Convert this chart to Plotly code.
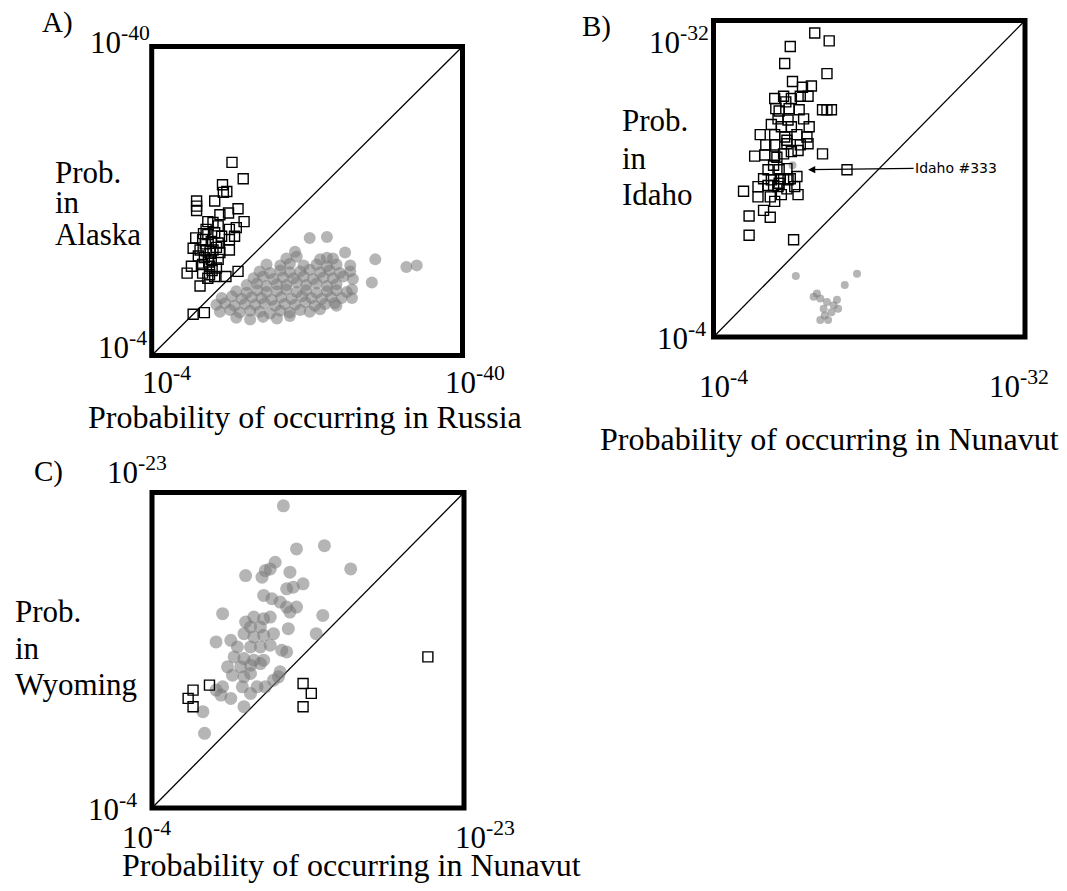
import plotly.graph_objects as go

W, H = 1067, 891

# ---------------- DATA (values given as -log10(probability)) ----------------
a_range = [4, 40]      # 10^-4 .. 10^-40
b_range = [4, 32]
c_range = [4, 23]

# Panel A: Alaska (y) vs Russia (x)
a_sq_x = [13.3, 14.6, 12.2, 12.7, 9.2, 9.2, 9.2, 11.3, 12.3, 14.0, 12.9, 11.9, 14.7, 10.5, 11.1, 11.7,
          13.0, 13.8, 10.3, 10.5, 11.3, 12.1, 9.1, 9.9, 10.9, 11.7, 13.0, 13.6, 8.8, 9.6, 10.3, 11.1,
          11.9, 13.0, 9.4, 10.1, 10.9, 11.7, 9.9, 10.7, 11.5, 8.6, 8.1, 9.9, 10.7, 11.3, 12.6, 14.0,
          9.6, 10.5, 8.8, 10.1, 10.8, 10.2, 11.5, 10.6, 11.0, 10.0]
a_sq_y = [26.5, 24.6, 23.9, 23.1, 22.0, 21.4, 20.9, 22.0, 23.0, 21.1, 20.6, 20.4, 19.6, 19.6, 19.5, 19.1,
          18.7, 18.9, 18.7, 18.1, 18.3, 17.9, 17.7, 17.5, 17.3, 17.1, 17.5, 17.9, 16.5, 16.3, 16.2, 16.3,
          16.0, 16.3, 15.6, 15.4, 15.2, 15.2, 14.6, 14.4, 14.2, 14.4, 13.6, 13.6, 13.4, 13.2, 13.2, 13.8,
          12.1, 13.0, 8.8, 9.0, 15.9, 17.0, 16.6, 14.9, 13.9, 18.2]
a_ci_x = [13.8, 15.4, 16.9, 18.5, 20.0,
          11.9, 13.1, 14.2, 15.4, 16.5, 17.7, 18.9, 20.0, 21.2, 22.3, 23.5,
          11.5, 12.5, 13.6, 14.8, 16.0, 17.1, 18.3, 19.4, 20.6, 21.8, 22.9, 24.1, 25.2,
          12.1, 13.3, 14.4, 15.6, 16.7, 17.9, 19.0, 20.2, 21.4, 22.5, 23.7, 24.8, 26.0,
          13.8, 15.0, 16.2, 17.3, 18.5, 19.6, 20.8, 21.9, 23.1, 24.3, 25.4, 26.6,
          15.0, 16.2, 17.3, 18.5, 19.6, 20.8, 21.9, 23.1, 24.3, 25.4,
          15.8, 16.9, 18.1, 19.2, 20.4, 21.6, 22.7, 23.9, 25.0, 26.2, 27.3,
          16.5, 17.7, 18.9, 20.0, 21.2, 22.3, 23.5, 24.6, 25.8, 27.0,
          17.3, 18.9, 20.0, 21.6, 23.1, 24.3, 25.4, 27.0,
          19.6, 20.8, 23.5, 24.3, 25.0,
          20.6, 26.4,
          22.3, 24.3, 29.9, 33.5, 34.7, 29.5, 27.2, 27.2, 25.4]
a_ci_y = [8.4, 8.2, 8.5, 8.3, 8.6,
          9.1, 9.3, 9.0, 9.2, 9.1, 8.9, 9.2, 9.0, 9.3, 9.1, 9.4,
          9.9, 10.1, 9.8, 10.0, 9.9, 10.1, 9.8, 10.0, 9.9, 10.2, 9.8, 10.0, 10.1,
          10.7, 10.9, 10.6, 10.8, 10.7, 10.5, 10.8, 10.6, 10.9, 10.7, 10.6, 10.8, 10.7,
          11.5, 11.3, 11.6, 11.4, 11.5, 11.7, 11.4, 11.6, 11.3, 11.5, 11.6, 11.4,
          12.2, 12.4, 12.1, 12.3, 12.2, 12.5, 12.2, 12.4, 12.1, 12.3,
          13.0, 13.2, 12.9, 13.1, 13.0, 13.2, 12.9, 13.1, 13.0, 13.2, 12.9,
          13.8, 13.6, 13.9, 13.7, 13.8, 14.0, 13.7, 13.9, 13.6, 13.8,
          14.6, 14.5, 14.7, 14.5, 14.6, 14.4, 14.6, 14.5,
          15.3, 15.5, 15.2, 15.4, 15.3,
          16.1, 16.0,
          17.7, 17.8, 15.2, 14.3, 14.5, 12.5, 11.7, 10.7, 9.8]

# Panel B: Idaho (y) vs Nunavut (x)
b_sq_x = [13.1, 14.4, 10.9, 10.4, 14.2, 11.1, 12.0, 12.8, 9.5, 10.3, 11.0, 11.8, 12.5, 9.6, 10.8, 11.7,
          13.8, 14.2, 14.6, 9.8, 10.7, 12.1, 9.2, 10.1, 11.0, 12.6, 8.2, 9.5, 10.4, 11.5, 12.4, 8.7,
          9.5, 10.6, 11.8, 12.5, 13.8, 7.7, 8.6, 9.5, 10.3, 11.0, 11.6, 8.9, 9.9, 9.4, 10.6, 8.5,
          9.2, 10.0, 10.7, 11.5, 8.0, 8.9, 9.8, 10.6, 11.3, 6.7, 8.0, 9.1, 10.1, 11.6, 9.5, 8.5,
          9.1, 7.2, 7.2, 11.2, 9.7, 10.3, 10.9, 9.9, 9.4, 10.6, 9.9, 10.5]
b_sq_y = [30.9, 30.2, 29.7, 28.2, 27.3, 26.6, 26.1, 26.2, 25.1, 25.3, 25.1, 25.3, 25.3, 24.2, 24.2, 24.1,
          24.1, 24.1, 24.1, 23.3, 23.2, 23.3, 22.8, 22.6, 22.6, 22.6, 21.9, 21.9, 21.7, 21.9, 21.7, 21.0,
          21.0, 21.1, 21.0, 21.1, 20.2, 20.0, 20.1, 20.0, 20.2, 20.4, 20.5, 18.8, 18.8, 19.2, 18.9, 18.0,
          17.9, 18.0, 17.9, 18.2, 17.3, 17.4, 17.3, 17.1, 17.3, 16.9, 16.4, 16.4, 16.6, 16.6, 16.0, 15.2,
          14.6, 14.7, 13.0, 12.6, 19.9, 18.0, 18.0, 17.6, 17.4, 21.4, 24.0, 24.8]
b_ci_x = [11.4, 16.9, 15.8, 13.0, 13.6, 14.2, 14.8, 15.2, 14.6, 14.0, 13.6, 14.3, 13.3, 15.1, 13.9, 11.1]
b_ci_y = [9.4, 9.6, 8.6, 7.55, 7.4, 7.1, 6.8, 6.5, 6.2, 5.9, 5.5, 5.5, 7.85, 7.3, 6.5, 19.2]
idaho333 = [16.0, 18.8]
idaho333_label = "Idaho #333"

# Panel C: Wyoming (y) vs Nunavut (x)
c_sq_x = [6.5, 6.2, 6.5, 7.5, 13.2, 13.7, 13.2, 20.8]
c_sq_y = [11.1, 10.6, 10.1, 11.4, 11.5, 10.9, 10.1, 13.1]
c_ci_x = [12.0, 12.8, 14.5, 16.1, 9.7, 10.7, 11.5, 11.2, 10.9, 12.4, 12.6, 13.2, 12.2, 10.8, 11.3, 11.8,
          12.2, 12.8, 12.4, 14.4, 14.0, 8.3, 9.7, 10.2, 10.8, 11.2, 10.0, 10.6, 9.6, 10.2, 10.8, 11.4,
          12.3, 7.9, 8.8, 9.2, 10.0, 10.6, 11.2, 11.9, 12.2, 9.0, 9.6, 10.2, 10.8, 9.4, 10.0, 10.6,
          11.8, 8.9, 9.6, 10.0, 8.3, 9.5, 8.2, 8.8, 10.0, 10.9, 11.4, 7.1, 9.6, 7.2, 7.9, 8.6,
          10.4, 11.7]
c_ci_y = [22.2, 19.6, 19.8, 18.4, 18.0, 17.9, 18.8, 18.4, 18.3, 18.2, 17.3, 17.5, 17.2, 16.8, 16.6, 16.4,
          16.1, 16.1, 15.8, 15.6, 14.5, 15.7, 15.2, 15.5, 15.4, 15.5, 14.9, 14.9, 14.5, 14.3, 14.4, 14.5,
          14.8, 14.0, 14.1, 13.7, 13.7, 13.7, 13.8, 13.5, 13.4, 13.1, 13.0, 12.9, 12.9, 12.5, 12.6, 12.7,
          12.2, 12.0, 11.9, 12.1, 11.3, 11.3, 10.8, 10.6, 10.9, 11.3, 11.7, 9.8, 10.1, 8.5, 11.1, 12.5,
          11.3, 11.9]

# Text
panel_letters = ["A)", "B)", "C)"]
y_titles = [["Prob.", "in", "Alaska"], ["Prob.", "in", "Idaho"], ["Prob.", "in", "Wyoming"]]
x_titles = ["Probability of occurring in Russia", "Probability of occurring in Nunavut",
            "Probability of occurring in Nunavut"]
a_tick_text = ["10<sup>-4</sup>", "10<sup>-40</sup>"]
b_tick_text = ["10<sup>-4</sup>", "10<sup>-32</sup>"]
c_tick_text = ["10<sup>-4</sup>", "10<sup>-23</sup>"]


def prob(vals):
    return [10 ** (-v) for v in vals]


# ---------------- LAYOUT HELPERS ----------------
def P(x):
    return x / W


def Q(y):
    return 1 - y / H


FONT = "Liberation Serif"
GREY = "rgba(120,120,120,0.55)"

# panel boxes in pixels: (left, top, right, bottom)
boxes = [(151.7, 46.5, 462.5, 355.5), (713.5, 20.5, 1025, 337), (152, 492.5, 464, 808)]
ranges = [a_range, b_range, c_range]

fig = go.Figure()

data_sets = [
    (a_sq_x, a_sq_y, a_ci_x, a_ci_y, 12),
    (b_sq_x, b_sq_y, b_ci_x, b_ci_y, 8),
    (c_sq_x, c_sq_y, c_ci_x, c_ci_y, 13),
]

for i, (sx, sy, cx, cy, csize) in enumerate(data_sets):
    xa = "x" if i == 0 else f"x{i+1}"
    ya = "y" if i == 0 else f"y{i+1}"
    r = ranges[i]
    # diagonal
    fig.add_trace(go.Scatter(x=prob(r), y=prob(r), mode="lines",
                             line=dict(color="black", width=1.3),
                             xaxis=xa, yaxis=ya, showlegend=False, hoverinfo="skip"))
    fig.add_trace(go.Scatter(x=prob(cx), y=prob(cy), mode="markers",
                             marker=dict(symbol="circle", size=csize, color=GREY,
                                         line=dict(width=0)),
                             xaxis=xa, yaxis=ya, showlegend=False))
    fig.add_trace(go.Scatter(x=prob(sx), y=prob(sy), mode="markers",
                             marker=dict(symbol="square-open", size=10, color="black",
                                         line=dict(width=1.4, color="black")),
                             xaxis=xa, yaxis=ya, showlegend=False))

# Idaho #333 point
fig.add_trace(go.Scatter(x=prob([idaho333[0]]), y=prob([idaho333[1]]), mode="markers",
                         marker=dict(symbol="square-open", size=10, color="black",
                                     line=dict(width=1.4, color="black")),
                         xaxis="x2", yaxis="y2", showlegend=False))

layout = dict(width=W, height=H, margin=dict(l=0, r=0, t=0, b=0),
              paper_bgcolor="white", plot_bgcolor="white", showlegend=False)
shapes = []
for i, (l, t, rr, b) in enumerate(boxes):
    sfx = "" if i == 0 else str(i + 1)
    r = ranges[i]
    ax_common = dict(type="log", showgrid=False, zeroline=False, showticklabels=False,
                     ticks="", showline=False)
    layout["xaxis" + sfx] = dict(ax_common, domain=[P(l), P(rr)], range=[-r[0], -r[1]],
                                 anchor="y" + sfx)
    layout["yaxis" + sfx] = dict(ax_common, domain=[Q(b), Q(t)], range=[-r[0], -r[1]],
                                 anchor="x" + sfx)
    shapes.append(dict(type="rect", xref=f"x{sfx} domain", yref=f"y{sfx} domain",
                       x0=0, x1=1, y0=0, y1=1, line=dict(color="black", width=5),
                       fillcolor="rgba(0,0,0,0)", layer="above"))
layout["shapes"] = shapes


def ann(text, xl, yc, size=31, family=FONT):
    return dict(text=text, x=P(xl), y=Q(yc), xref="paper", yref="paper",
                xanchor="left", yanchor="middle", showarrow=False,
                font=dict(family=family, size=size, color="black"))


anns = []
# Panel A
anns.append(ann(panel_letters[0], 40, 22, 29))
anns.append(ann(a_tick_text[1], 88, 40))
anns.append(ann(a_tick_text[0], 96, 345))
for txt, yc in zip(y_titles[0], [172, 203, 234]):
    anns.append(ann(txt, 53, yc))
anns.append(ann(a_tick_text[0], 140, 381))
anns.append(ann(a_tick_text[1], 443, 381))
anns.append(ann(x_titles[0], 86, 417, 32))

# Panel B
anns.append(ann(panel_letters[1], 580, 27, 29))
anns.append(ann(b_tick_text[1], 647, 40))
anns.append(ann(b_tick_text[0], 655, 336))
for txt, yc in zip(y_titles[1], [121, 159, 194]):
    anns.append(ann(txt, 620, yc))
anns.append(ann(b_tick_text[0], 697, 384))
anns.append(ann(b_tick_text[1], 987, 384))
anns.append(ann(x_titles[1], 598, 439, 32))

# Panel C
anns.append(ann(panel_letters[2], 32, 471, 29))
anns.append(ann(c_tick_text[1], 105, 470))
anns.append(ann(c_tick_text[0], 86, 807))
for txt, yc in zip(y_titles[2], [611, 648, 684]):
    anns.append(ann(txt, 13, yc))
anns.append(ann(c_tick_text[0], 120, 835))
anns.append(ann(c_tick_text[1], 453, 835))
anns.append(ann(x_titles[2], 120, 865, 32))

# Idaho #333 arrow annotation (log coords on axis 2)
anns.append(dict(text=idaho333_label, x=-12.5, y=-idaho333[1], xref="x2", yref="y2",
                 showarrow=True, ax=148, ay=-2, arrowhead=2, arrowsize=1.2, arrowwidth=1.2,
                 arrowcolor="black", standoff=0,
                 font=dict(family="DejaVu Sans", size=14, color="black")))

layout["annotations"] = anns
fig.update_layout(**layout)
fig.write_html("out.html")
